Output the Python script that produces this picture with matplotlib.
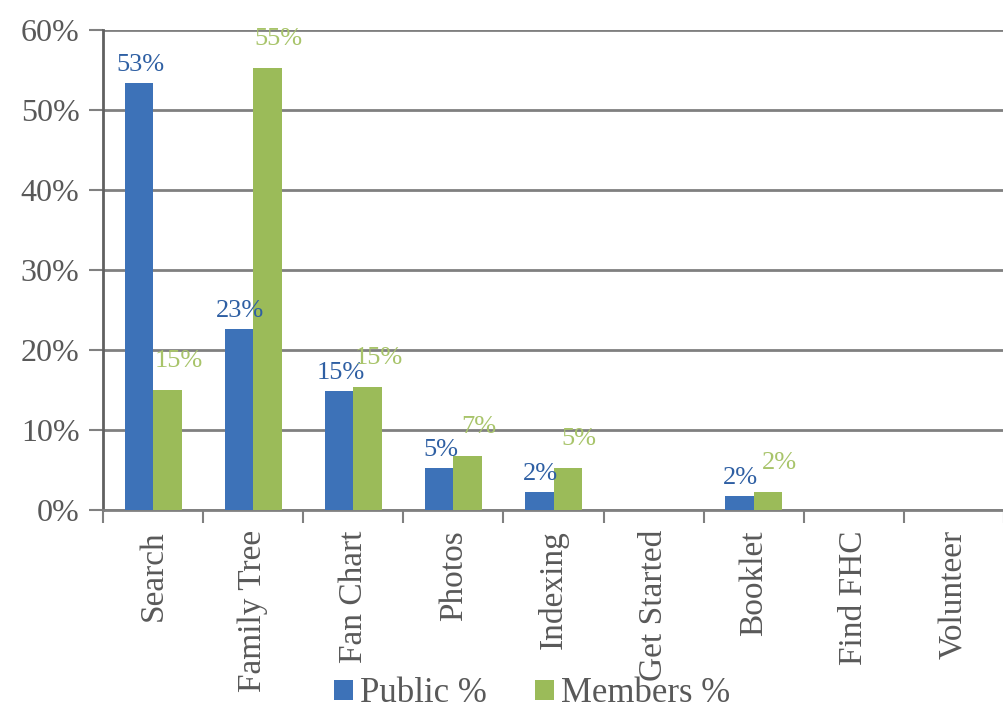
import numpy as np
import matplotlib.pyplot as plt
from matplotlib.ticker import FuncFormatter

plt.rcParams['font.family'] = ['Liberation Serif', 'DejaVu Serif']

categorias = ['Search', 'Family Tree', 'Fan Chart', 'Photos', 'Indexing',
              'Get Started', 'Booklet', 'Find FHC', 'Volunteer']
publico = [53.4, 22.6, 14.9, 5.2, 2.2, 0, 1.7, 0, 0]
membros = [15.0, 55.2, 15.4, 6.8, 5.2, 0, 2.3, 0, 0]

azul = '#3D72B8'
verde = '#9BBB59'
cinza = '#808080'
texto = '#595959'

fig = plt.figure(figsize=(10.04, 7.13), dpi=100)
ax = fig.add_axes([0.1026, 0.2847, 0.8974, 0.6733])

x = np.arange(len(categorias))
w = 0.285
ax.bar(x - w/2, publico, w, color=azul, label='Public %', zorder=3)
ax.bar(x + w/2, membros, w, color=verde, label='Members %', zorder=3)

# rótulos de dados (zeros ficam sem rótulo)
for xi, v in zip(x, publico):
    if v > 0:
        ax.annotate(f'{v:.0f}%', (xi - w/2, v), xytext=(1, 5), textcoords='offset points',
                    ha='center', va='bottom', color='#2E5FA3', fontsize=19)
for xi, v in zip(x, membros):
    if v > 0:
        ax.annotate(f'{v:.0f}%', (xi + w/2, v), xytext=(8, 13), textcoords='offset points',
                    ha='center', va='bottom', color='#A8C46A', fontsize=19)

ax.set_xlim(-0.5, len(categorias) - 0.5)
ax.set_ylim(0, 60)
ax.set_yticks(np.arange(0, 61, 10))
ax.yaxis.set_major_formatter(FuncFormatter(lambda v, p: f'{v:.0f}%'))
ax.grid(axis='y', color=cinza, linewidth=2, zorder=0)

ax.set_xticks(np.arange(len(categorias) + 1) - 0.5)
ax.set_xticklabels([])
ax.tick_params(axis='x', direction='out', length=9, width=1.5, color=cinza)
ax.tick_params(axis='y', direction='out', length=10, width=1.5, color=cinza,
               labelsize=23, labelcolor=texto, pad=7)
for xi, c in zip(x, categorias):
    ax.text(xi, -2.5, c, rotation=90, ha='center', va='top', fontsize=24, color=texto)

for s in ['top', 'right']:
    ax.spines[s].set_visible(False)
ax.spines['left'].set_color('#606060')
ax.spines['left'].set_linewidth(2)
ax.spines['bottom'].set_color(cinza)
ax.spines['bottom'].set_linewidth(2)

fig.legend(loc='center', bbox_to_anchor=(0.53, 0.027), ncol=2, frameon=False,
           fontsize=25, handlelength=0.55, handleheight=0.55, handletextpad=0.2,
           columnspacing=1.4, labelcolor=texto)

plt.savefig('out.png', dpi=100)
